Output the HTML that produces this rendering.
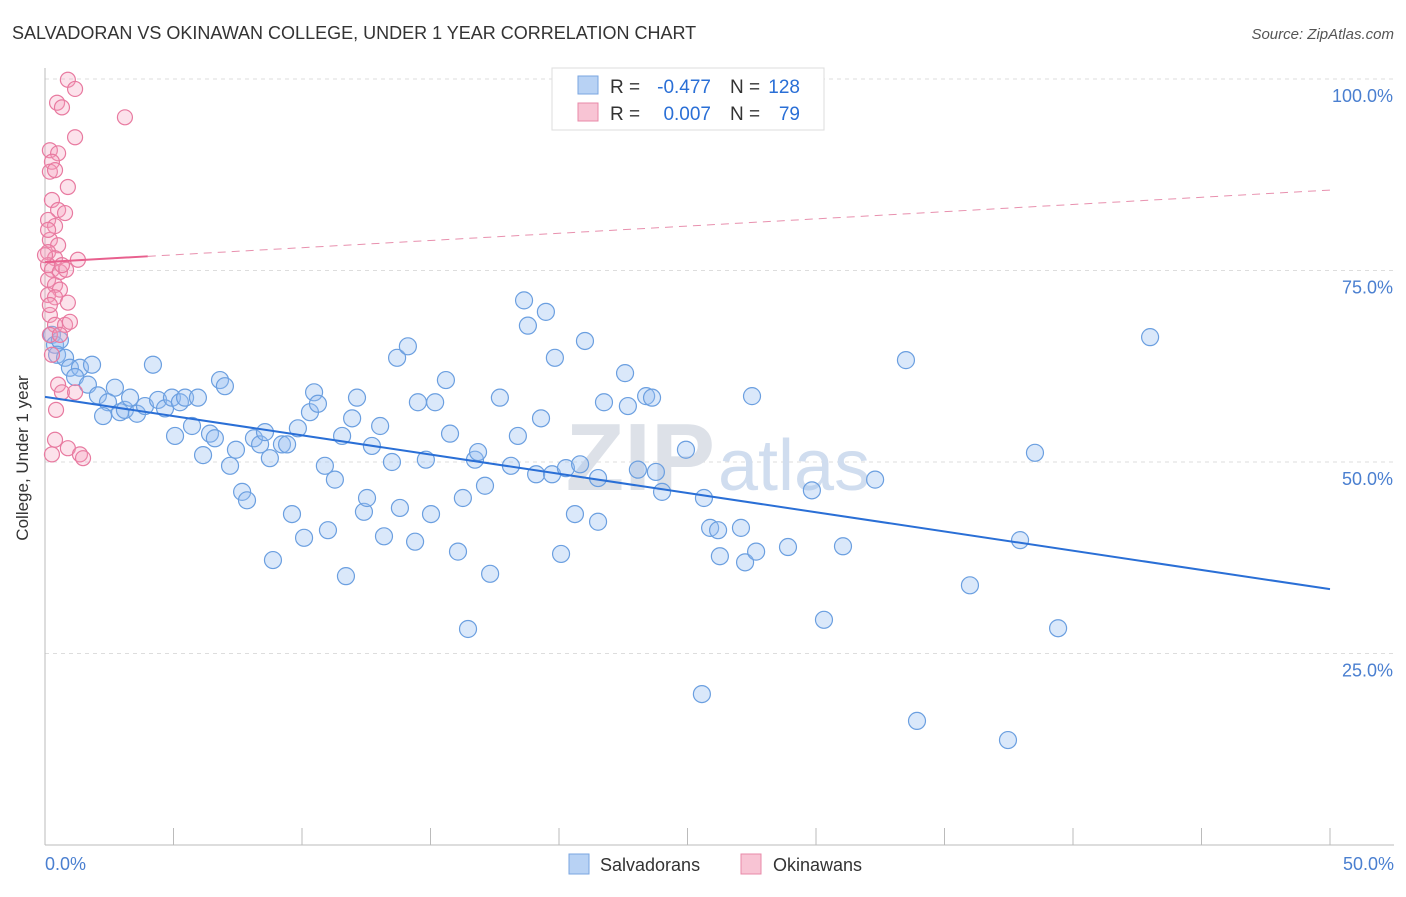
<!DOCTYPE html>
<html><head><meta charset="utf-8"><style>
body{margin:0;background:#fff;font-family:"Liberation Sans",sans-serif;}
svg text{font-family:"Liberation Sans",sans-serif;}
</style></head><body>
<svg id="chart" width="1406" height="892" xmlns="http://www.w3.org/2000/svg">
<text x="12" y="39" font-size="18" fill="#333">SALVADORAN VS OKINAWAN COLLEGE, UNDER 1 YEAR CORRELATION CHART</text>
<text x="1394" y="39" font-size="15" fill="#555" font-style="italic" text-anchor="end">Source: ZipAtlas.com</text>
<g id="grid"></g>
<text x="715" y="490" font-size="96" fill="#dde1e8" text-anchor="end" font-weight="bold">ZIP</text>
<text x="718" y="490" font-size="72" fill="#d0ddef">atlas</text>
<g id="pts"></g>
<g id="trend"></g>
<text x="28" y="458" font-size="17" fill="#333" text-anchor="middle" transform="rotate(-90 28 458)">College, Under 1 year</text>
<text x="45" y="870" font-size="18" fill="#4a7fd0">0.0%</text>
<text x="1394" y="870" font-size="18" fill="#4a7fd0" text-anchor="end">50.0%</text>
<g>
<rect x="552" y="68" width="272" height="62" fill="#fff" stroke="#ddd"/>
<rect x="578" y="76" width="20" height="18" fill="#b8d2f4" stroke="#7aa6e0"/>
<rect x="578" y="103" width="20" height="18" fill="#f8c4d4" stroke="#e88aa8"/>
<text x="610" y="93" font-size="19" fill="#333">R =</text>
<text x="711" y="93" font-size="19" fill="#2a6fd6" text-anchor="end">-0.477</text>
<text x="730" y="93" font-size="19" fill="#333">N =</text>
<text x="800" y="93" font-size="19" fill="#2a6fd6" text-anchor="end">128</text>
<text x="610" y="120" font-size="19" fill="#333">R =</text>
<text x="711" y="120" font-size="19" fill="#2a6fd6" text-anchor="end">0.007</text>
<text x="730" y="120" font-size="19" fill="#333">N =</text>
<text x="800" y="120" font-size="19" fill="#2a6fd6" text-anchor="end">79</text>
</g>
<g>
<rect x="569" y="854" width="20" height="20" fill="#b8d2f4" stroke="#7aa6e0"/>
<text x="600" y="871" font-size="18" fill="#333">Salvadorans</text>
<rect x="741" y="854" width="20" height="20" fill="#f8c4d4" stroke="#e88aa8"/>
<text x="773" y="871" font-size="18" fill="#333">Okinawans</text>
</g>
</svg>
<script>
const yTicks=[25,50,75,100];
const yTickLabels=["25.0%","50.0%","75.0%","100.0%"];
const xTicks=[0,5,10,15,20,25,30,35,40,45,50];
const blueX=[.27,.39,.58,.47,.78,.97,1.36,1.83,1.17,1.67,2.06,2.72,2.45,2.26,2.92,3.11,3.31,3.58,3.89,4.2,4.4,4.67,4.94,5.06,5.25,5.45,5.72,5.95,6.15,6.42,6.61,6.81,7,7.2,7.43,7.67,7.86,8.13,8.37,8.56,8.75,8.87,9.22,9.42,9.61,9.84,10.08,10.31,10.47,10.62,10.89,11.01,11.28,11.56,11.71,11.95,12.14,12.41,12.53,12.72,13.04,13.19,13.5,13.7,13.81,14.12,14.4,14.51,14.82,15.02,15.18,15.6,15.76,16.07,16.26,16.46,16.73,16.85,17.12,17.32,17.7,18.13,18.4,18.64,18.79,19.11,19.3,19.49,19.73,19.84,20.08,20.27,20.62,20.82,21.01,21.52,21.52,21.75,22.57,22.68,23.07,23.39,23.62,23.77,24.01,24.94,25.56,25.64,25.88,26.19,26.26,27.08,27.24,27.51,27.67,28.91,29.84,30.31,31.05,32.3,33.5,33.93,35.99,37.47,37.94,38.52,39.42,43];
const blueY=[66.6,65.3,65.9,64,63.6,62.3,62.3,62.7,61.1,60.1,58.7,59.7,57.8,56,56.5,56.8,58.4,56.3,57.3,62.7,58.1,57,58.4,53.4,57.8,58.4,54.7,58.4,50.9,53.7,53.1,60.7,59.9,49.5,51.6,46.1,45,53.1,52.3,53.9,50.5,37.2,52.3,52.3,43.2,54.4,40.1,56.5,59.1,57.6,49.5,41.1,47.7,53.4,35.1,55.7,58.4,43.5,45.3,52.1,54.7,40.3,50,63.6,44,65.1,39.6,57.8,50.3,43.2,57.8,60.7,53.7,38.3,45.3,28.2,50.3,51.3,46.9,35.4,58.4,49.5,53.4,71.1,67.8,48.4,55.7,69.6,48.4,63.6,38,49.2,43.2,49.7,65.8,47.9,42.2,57.8,61.6,57.3,49,58.6,58.4,48.7,46.1,51.6,19.7,45.3,41.4,41.1,37.7,41.4,36.9,58.6,38.3,38.9,46.3,29.4,39,47.7,63.3,16.2,33.9,13.7,39.8,51.2,28.3,66.3];
const pinkX=[.89,1.17,.47,.66,3.11,1.17,.19,.51,.27,.89,.19,.39,.27,.51,.78,.12,.39,.19,.51,.12,.39,1.28,.12,.27,.58,.82,.12,.39,.58,.12,.39,.89,.19,.39,.78,.19,.58,.27,.51,.66,1.17,.43,.39,.89,.27,1.36,1.48,.12,.66,.19,0,.97];
const pinkY=[99.9,98.7,96.9,96.3,95,92.4,90.7,90.3,89.2,85.9,87.9,88.1,84.2,82.9,82.5,81.6,80.8,79,78.3,77.4,76.6,76.4,75.7,75.1,74.8,75.1,73.8,73.1,72.5,71.8,71.5,70.8,69.2,67.9,67.9,66.6,66.6,64,60.1,59.1,59.1,56.8,52.9,51.8,51,51,50.5,80.3,75.7,70.5,77,68.3];
const blueTrend=[58.5,33.4];
const pinkTrend=[76.1,85.5];
const NS="http://www.w3.org/2000/svg";
const X=v=>45+v*25.7, Y=v=>845-v*7.66;
function mk(t,a,p){const e=document.createElementNS(NS,t);for(const k in a)e.setAttribute(k,a[k]);p.appendChild(e);return e;}
const grid=document.getElementById('grid');
yTicks.forEach((t,i)=>{
 const l=mk('line',{x1:45,x2:1394,y1:Y(t),y2:Y(t),stroke:'#ddd','stroke-dasharray':'4,4'},grid);
 
 
 const tx=mk('text',{x:1393,y:Y(t)+23,'font-size':18,fill:'#4a7fd0','text-anchor':'end'},grid);
 tx.textContent=yTickLabels[i];
 
 
});
const ax=mk('line',{x1:45,x2:1394,y1:845,y2:845,stroke:'#bbb'},grid);


const ay=mk('line',{x1:45,x2:45,y1:68,y2:845,stroke:'#bbb'},grid);


xTicks.forEach(t=>{const l=mk('line',{x1:X(t),x2:X(t),y1:828,y2:845,stroke:'#bbb'},grid);
 
 });
const pts=document.getElementById('pts');
blueX.forEach((x,i)=>{const c=mk('circle',{cx:X(x),cy:Y(blueY[i]),r:8.5,fill:'rgba(150,190,240,0.35)',stroke:'#6b9fe0','stroke-width':1.2},pts);
 
 });
pinkX.forEach((x,i)=>{const c=mk('circle',{cx:X(x),cy:Y(pinkY[i]),r:7.5,fill:'rgba(244,160,190,0.3)',stroke:'#e87aa0','stroke-width':1.2},pts);
 
 });
const tr=document.getElementById('trend');
const bl=mk('line',{x1:X(0),y1:Y(blueTrend[0]),x2:X(50),y2:Y(blueTrend[1]),stroke:'#2a6fd6','stroke-width':2},tr);


const pk=(v)=>pinkTrend[0]+(pinkTrend[1]-pinkTrend[0])*v/50;
const ps=mk('line',{x1:X(0),y1:Y(pk(0)),x2:X(4),y2:Y(pk(4)),stroke:'#e8608e','stroke-width':2},tr);


const pd=mk('line',{x1:X(4),y1:Y(pk(4)),x2:X(50),y2:Y(pk(50)),stroke:'#e890ae','stroke-width':1,'stroke-dasharray':'8,6'},tr);


</script>
</body></html>
